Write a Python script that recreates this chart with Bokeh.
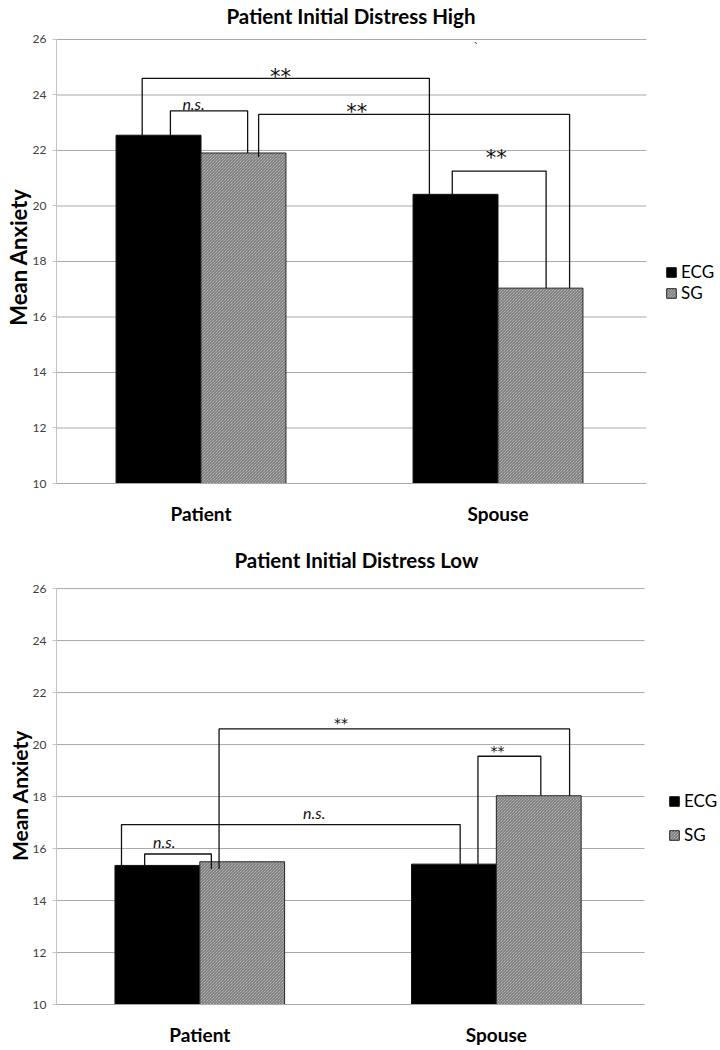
from bokeh.plotting import figure
from bokeh.layouts import column
from bokeh.models import (Range1d, FixedTicker, Legend, LegendItem,
                          ColumnDataSource)
from bokeh.core.properties import value
from bokeh.embed import file_html
from bokeh.resources import INLINE

# ---------------- data ----------------
categories = ["Patient", "Spouse"]
groups = ["ECG", "SG"]
y_ticks = [10, 12, 14, 16, 18, 20, 22, 24, 26]
y_label = "Mean Anxiety"

high_title = "Patient Initial Distress High"
high_ecg = [22.55, 20.42]
high_sg = [21.91, 17.04]

low_title = "Patient Initial Distress Low"
low_ecg = [15.35, 15.40]
low_sg = [15.49, 18.03]

# significance brackets (x in category units 0..2, heights in anxiety units)
high_br_x1 = [0.302, 0.397, 0.694, 1.346]
high_br_x2 = [1.269, 0.657, 1.741, 1.662]
high_br_top = [24.60, 23.43, 23.30, 21.26]
high_br_left_end = [22.55, 22.55, 21.77, 20.42]
high_br_right_end = [20.42, 21.91, 17.04, 17.04]
high_sig = ["**", "n.s.", "**", "**", "`"]
high_sig_x = [0.768, 0.475, 1.024, 1.494, 1.427]
high_sig_y = [24.78, 23.70, 23.52, 21.87, 25.85]

low_br_x1 = [0.565, 1.438, 0.236, 0.314]
low_br_x2 = [1.747, 1.650, 1.378, 0.539]
low_br_top = [20.60, 19.55, 16.92, 15.79]
low_br_left_end = [15.21, 15.40, 15.35, 15.35]
low_br_right_end = [18.03, 18.03, 15.40, 15.21]
low_sig = ["**", "**", "n.s.", "n.s."]
low_sig_x = [0.976, 1.504, 0.886, 0.380]
low_sig_y = [20.96, 19.86, 17.40, 16.26]

FONT = "Lato"
BAR_W = 0.286
W = 720
PX_PER_CAT = 297.0


def make_chart(title, ecg, sg, bx1, bx2, btop, bl, br, sig, sx, sy,
               height, b_left, cat_left, b_top, b_bottom, y_end,
               title_offset, title_valign, title_standoff,
               ylab_size, legend_xy, legend_spacing,
               star_size, ns_size, star_offset, cat_standoff):
    n = len(categories)
    x_start = (b_left - cat_left) / PX_PER_CAT
    x_end = x_start + (W - b_left) / PX_PER_CAT
    p = figure(width=W, height=height, output_backend="svg",
               toolbar_location=None, x_range=Range1d(x_start, x_end),
               y_range=Range1d(y_ticks[0], y_end), title=title,
               min_border_top=b_top, min_border_bottom=b_bottom,
               min_border_left=b_left, min_border_right=0)
    p.outline_line_color = None
    p.background_fill_color = "white"
    p.xgrid.visible = False
    p.ygrid.visible = False

    # chart title
    p.title.align = "left"
    p.title.offset = title_offset
    p.title.vertical_align = title_valign
    p.title.standoff = title_standoff
    p.title.text_font = FONT
    p.title.text_font_size = "20.5px"
    p.title.text_font_style = "bold"
    p.title.text_color = "black"

    # horizontal gridlines, limited to the category extent
    p.segment(x0=0, x1=n, y0=y_ticks, y1=y_ticks, line_color="#a9a9a9",
              line_width=1)

    # y axis
    p.yaxis.bounds = (y_ticks[0], y_ticks[-1])
    p.yaxis.ticker = FixedTicker(ticks=y_ticks)
    p.yaxis.axis_line_color = "#c4c4c4"
    p.yaxis.major_tick_line_color = "#c4c4c4"
    p.yaxis.major_tick_out = 4
    p.yaxis.major_tick_in = 0
    p.yaxis.minor_tick_line_color = None
    p.yaxis.major_label_standoff = 6
    p.yaxis.major_label_text_font = FONT
    p.yaxis.major_label_text_font_size = "12px"
    p.yaxis.major_label_text_color = "#404040"
    p.yaxis.axis_label = y_label
    p.yaxis.axis_label_text_font = FONT
    p.yaxis.axis_label_text_font_size = ylab_size
    p.yaxis.axis_label_text_font_style = "bold"
    p.yaxis.axis_label_text_color = "black"
    p.yaxis.axis_label_standoff = -2

    # x axis (categories)
    centers = [i + 0.5 for i in range(n)]
    p.xaxis.bounds = (0, n)
    p.xaxis.ticker = FixedTicker(ticks=centers)
    p.xaxis.major_label_overrides = {c: nm for c, nm in zip(centers, categories)}
    p.xaxis.axis_line_color = "#a9a9a9"
    p.xaxis.major_tick_line_color = None
    p.xaxis.minor_tick_line_color = None
    p.xaxis.major_label_standoff = cat_standoff
    p.xaxis.major_label_text_font = FONT
    p.xaxis.major_label_text_font_size = "19px"
    p.xaxis.major_label_text_font_style = "bold"
    p.xaxis.major_label_text_color = "black"

    # bars
    ecg_src = ColumnDataSource(dict(x=[c - BAR_W / 2 for c in centers], top=ecg))
    sg_src = ColumnDataSource(dict(x=[c + BAR_W / 2 for c in centers], top=sg))
    r_ecg = p.vbar(x="x", top="top", bottom=y_ticks[0], width=BAR_W,
                   source=ecg_src, fill_color="black", line_color="#111111",
                   line_width=1)
    r_sg = p.vbar(x="x", top="top", bottom=y_ticks[0], width=BAR_W,
                  source=sg_src, fill_color="#cfcfcf", line_color="#262626",
                  line_width=1, hatch_pattern="left_diagonal_line",
                  hatch_color="#5e5e5e", hatch_scale=3, hatch_weight=0.9)

    # brackets
    xs = [[a, a, b, b] for a, b in zip(bx1, bx2)]
    ys = [[l, t, t, r] for l, t, r in zip(bl, btop, br)]
    p.multi_line(xs=xs, ys=ys, line_color="#111111", line_width=1.3)

    # significance labels
    stars = [i for i, s in enumerate(sig) if s != "n.s."]
    nss = [i for i, s in enumerate(sig) if s == "n.s."]
    star_src = ColumnDataSource(dict(
        x=[sx[i] for i in stars], y=[sy[i] for i in stars],
        t=[sig[i] for i in stars],
        sz=[star_size if sig[i] == "**" else "10px" for i in stars]))
    p.text(x="x", y="y", text="t", source=star_src,
           text_font=value("DejaVu Sans"), text_font_size="sz",
           y_offset=star_offset, text_align="center", text_baseline="middle",
           text_color="#111111")
    ns_src = ColumnDataSource(dict(x=[sx[i] for i in nss], y=[sy[i] for i in nss],
                                   t=[sig[i] for i in nss]))
    p.text(x="x", y="y", text="t", source=ns_src, text_font=value(FONT),
           text_font_style="italic", text_font_size=ns_size,
           text_align="center", text_baseline="middle", text_color="#111111")

    legend = Legend(items=[LegendItem(label=groups[0], renderers=[r_ecg]),
                           LegendItem(label=groups[1], renderers=[r_sg])],
                    location=legend_xy, orientation="vertical")
    legend.border_line_color = None
    legend.background_fill_alpha = 0
    legend.padding = 0
    legend.margin = 0
    legend.spacing = legend_spacing
    legend.glyph_width = 12
    legend.glyph_height = 12
    legend.label_standoff = 4
    legend.label_text_font = FONT
    legend.label_text_font_size = "17px"
    legend.label_text_color = "black"
    p.add_layout(legend, "center")
    return p


top = make_chart(high_title, high_ecg, high_sg, high_br_x1, high_br_x2,
                 high_br_top, high_br_left_end, high_br_right_end,
                 high_sig, high_sig_x, high_sig_y,
                 height=527, b_left=56, cat_left=52, b_top=30, b_bottom=44,
                 y_end=26.324,
                 title_offset=170, title_valign="top", title_standoff=2,
                 ylab_size="22px", legend_xy=(609, 180), legend_spacing=0,
                 star_size="21px", ns_size="16px", star_offset=4,
                 cat_standoff=12)

bottom = make_chart(low_title, low_ecg, low_sg, low_br_x1, low_br_x2,
                    low_br_top, low_br_left_end, low_br_right_end,
                    low_sig, low_sig_x, low_sig_y,
                    height=521, b_left=55, cat_left=50, b_top=59, b_bottom=44,
                    y_end=26.08,
                    title_offset=178, title_valign="bottom", title_standoff=30,
                    ylab_size="21px", legend_xy=(612, 159), legend_spacing=13,
                    star_size="14px", ns_size="16px", star_offset=3,
                    cat_standoff=12)

layout = column(top, bottom, spacing=0)
open("out.html", "w").write(file_html(layout, INLINE))
